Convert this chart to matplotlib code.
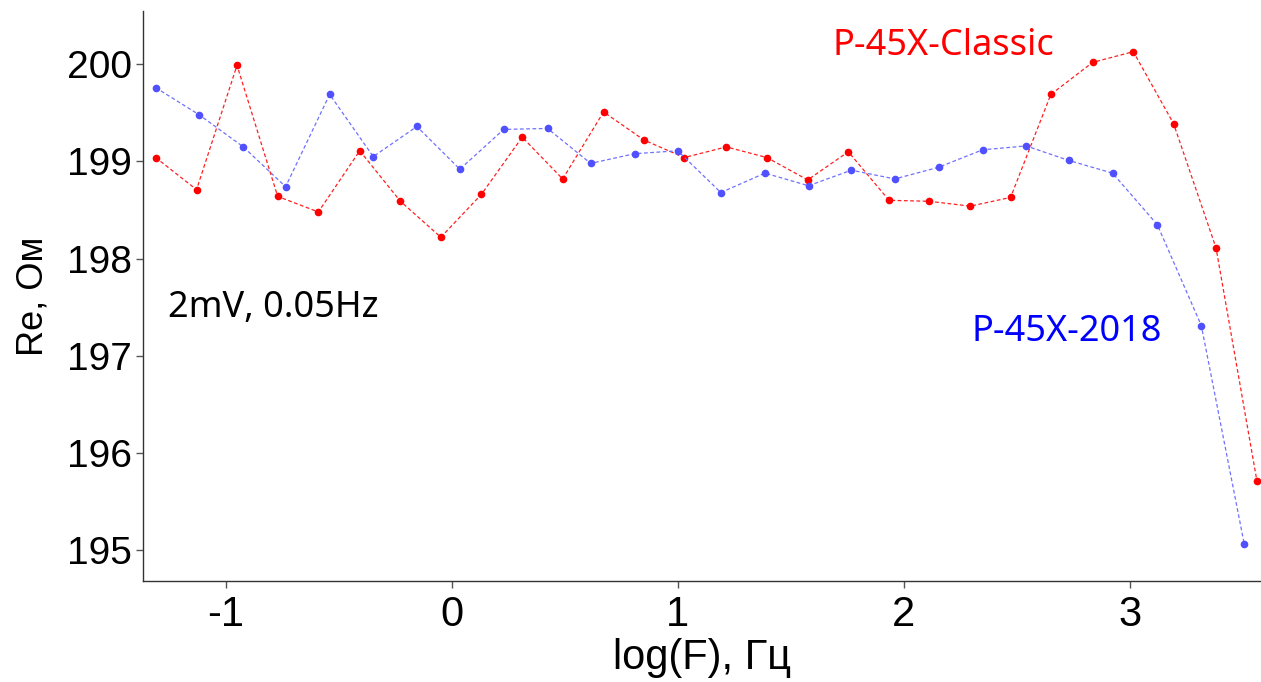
import matplotlib

matplotlib.use("Agg")
import matplotlib.pyplot as plt
from matplotlib import font_manager

# log(F) and Re values
classic_logf = [-1.311, -1.130, -0.951, -0.771, -0.591, -0.408, -0.228, -0.049, 0.130,
                0.311, 0.490, 0.671, 0.850, 1.028, 1.214, 1.394, 1.574, 1.754,
                1.934, 2.112, 2.294, 2.472, 2.650, 2.835, 3.015, 3.193, 3.381, 3.562]
classic_re = [199.04, 198.71, 199.99, 198.64, 198.48, 199.11, 198.59, 198.22, 198.66,
              199.25, 198.82, 199.51, 199.22, 199.04, 199.15, 199.04, 198.81, 199.10,
              198.60, 198.59, 198.54, 198.63, 199.69, 200.02, 200.13, 199.39, 198.11, 195.71]

m2018_logf = [-1.311, -1.118, -0.923, -0.736, -0.541, -0.348, -0.155, 0.035, 0.229,
              0.423, 0.614, 0.808, 0.999, 1.190, 1.385, 1.578, 1.767, 1.960,
              2.153, 2.348, 2.541, 2.730, 2.923, 3.121, 3.316, 3.506]
m2018_re = [199.76, 199.48, 199.15, 198.74, 199.69, 199.05, 199.36, 198.92, 199.33,
            199.34, 198.98, 199.08, 199.11, 198.68, 198.88, 198.75, 198.91, 198.82,
            198.94, 199.12, 199.16, 199.01, 198.88, 198.35, 197.31, 195.06]

x_ticks = [-1, 0, 1, 2, 3]
y_ticks = [195, 196, 197, 198, 199, 200]


def pick_font(names, fallback="Liberation Sans"):
    installed = {f.name for f in font_manager.fontManager.ttflist}
    for name in names:
        if name in installed:
            return name
    return fallback


narrow = pick_font(["Liberation Sans Narrow", "Liberation Sans"])
plain = "Liberation Sans"
note = pick_font(["Noto Sans", "DejaVu Sans"])

fig = plt.figure(figsize=(12.61, 6.82), dpi=100)
ax = fig.add_axes([0.1134, 0.148, 0.8866, 0.836])

ax.plot(classic_logf, classic_re, linestyle=(0, (3, 2)), color="#ff2020", lw=0.9,
        marker="o", markersize=4.5, markerfacecolor="#ff0000", markeredgecolor="#ff0000")
ax.plot(m2018_logf, m2018_re, linestyle=(0, (3, 2)), color="#7070ff", lw=0.9,
        marker="o", markersize=4.5, markerfacecolor="#5050ff", markeredgecolor="#5050ff")

ax.set_xlim(-1.367, 3.58)
ax.set_ylim(194.68, 200.55)
ax.set_xticks(x_ticks)
ax.set_yticks(y_ticks)
ax.set_xticklabels([str(v) for v in x_ticks], fontfamily=narrow, fontsize=30)
ax.set_yticklabels([str(v) for v in y_ticks], fontfamily=plain, fontsize=28)
ax.tick_params(axis="both", direction="out", length=5, width=1, color="#555555")
ax.tick_params(axis="x", pad=5)
ax.tick_params(axis="y", pad=3)

for side in ("top", "right"):
    ax.spines[side].set_visible(False)
for side in ("left", "bottom"):
    ax.spines[side].set_color("#333333")
    ax.spines[side].set_linewidth(1.0)

ax.set_xlabel("log(F), Гц", fontfamily=narrow, fontsize=30, labelpad=2)
ax.set_ylabel("Re, Ом", fontfamily=plain, fontsize=26, labelpad=12)

ax.text(1.686, 200.10, "P-45X-Classic", color="#ff0000", fontfamily=note, fontsize=26,
        ha="left", va="baseline")
ax.text(2.301, 197.15, "P-45X-2018", color="#0000ff", fontfamily=note, fontsize=26,
        ha="left", va="baseline")
ax.text(-1.257, 197.40, "2mV, 0.05Hz", color="#000000", fontfamily=note, fontsize=26,
        ha="left", va="baseline")

fig.savefig("out.png", dpi=100)
